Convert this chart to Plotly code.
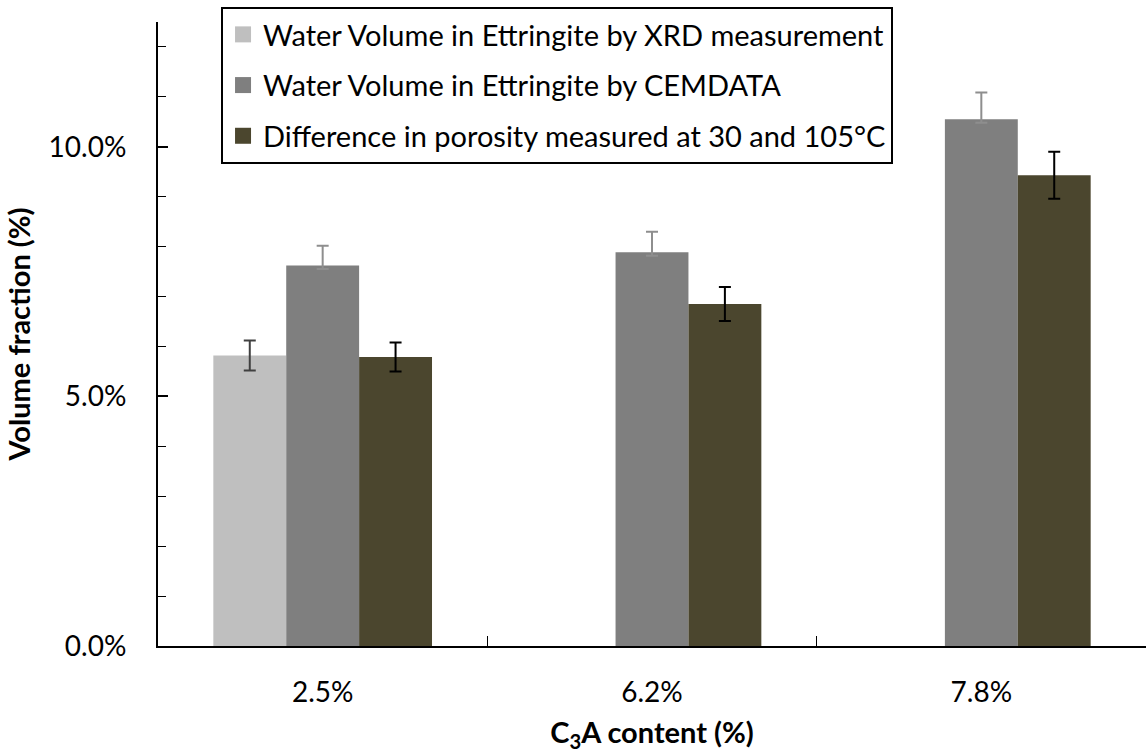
import plotly.graph_objects as go

categories = ["2.5%", "6.2%", "7.8%"]

xrd_values = [5.82, None, None]
xrd_errors = [0.30, 0, 0]

cemdata_values = [7.62, 7.89, 10.55]
cemdata_errors = [0.40, 0.41, 0.54]

porosity_values = [5.79, 6.85, 9.43]
porosity_errors = [0.29, 0.34, 0.47]

series_names = [
    "Water Volume in Ettringite by XRD measurement",
    "Water Volume in Ettringite by CEMDATA",
    "Difference in porosity measured at 30 and 105°C",
]
colors = ["#BFBFBF", "#7F7F7F", "#4B462E"]
err_colors = ["#404040", "#8E8E8E", "#000000"]
err_minus_shown = [True, False, True]

FONT = "Lato"
fig = go.Figure()

for name, vals, errs, col, ecol, minus in zip(
    series_names,
    [xrd_values, cemdata_values, porosity_values],
    [xrd_errors, cemdata_errors, porosity_errors],
    colors,
    err_colors,
    err_minus_shown,
):
    fig.add_trace(go.Bar(
        x=categories, y=vals, name=name,
        marker=dict(color=col, line=dict(width=0)),
        error_y=dict(type="data", array=errs,
                     arrayminus=errs if minus else [0.07] * len(errs),
                     symmetric=False, visible=True, color=ecol,
                     thickness=2, width=6),
        showlegend=False,
    ))
    # legend entry with larger square swatch
    fig.add_trace(go.Scatter(
        x=[None], y=[None], mode="markers", name=name,
        marker=dict(symbol="square", size=18, color=col),
        legendgroup=name, showlegend=True,
    ))

fig.update_layout(
    width=1146, height=753,
    margin=dict(l=158, r=0, t=22, b=107),
    paper_bgcolor="white", plot_bgcolor="white",
    barmode="group", bargap=0.336, bargroupgap=0,
    font=dict(family=FONT, size=28, color="#000000"),
    legend=dict(
        x=0.0638, y=1.024, xanchor="left", yanchor="top",
        bordercolor="#000000", borderwidth=2, bgcolor="white",
        font=dict(family=FONT, size=29, color="#000000"),
        tracegroupgap=10, itemwidth=30,
    ),
    xaxis=dict(
        showline=True, linecolor="#000000", linewidth=2,
        ticks="inside", ticklen=10, tickwidth=1, tickcolor="#000000",
        tickson="boundaries", ticklabelstandoff=20,
        tickfont=dict(family=FONT, size=28),
        title=dict(text="<b>C<sub>3</sub>A content (%)</b>", standoff=16,
                   font=dict(family=FONT, size=29)),
        showgrid=False, zeroline=False,
    ),
    yaxis=dict(
        range=[0, 12.5],
        showline=True, linecolor="#000000", linewidth=2,
        tickvals=[0, 5, 10], ticktext=["0.0%", "5.0%", "10.0%"],
        ticks="inside", ticklen=10, tickwidth=2, tickcolor="#000000",
        minor=dict(dtick=1, tick0=0, ticks="inside", ticklen=8, tickwidth=1,
                   tickcolor="#000000", showgrid=False),
        ticklabelstandoff=24,
        tickfont=dict(family=FONT, size=28),
        title=dict(text="<b>Volume fraction (%)</b>", standoff=9,
                   font=dict(family=FONT, size=29)),
        showgrid=False, zeroline=False,
    ),
)

fig.write_html("out.html")
